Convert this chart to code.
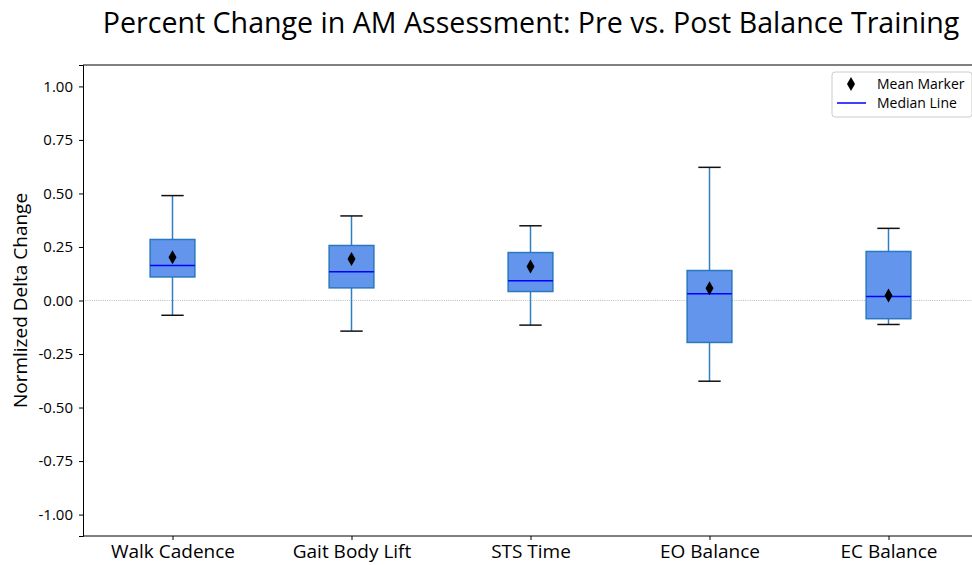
<!DOCTYPE html>
<html>
<head>
<meta charset="utf-8">
<script src="https://cdn.jsdelivr.net/npm/d3@7"></script>
<style>
  body { margin: 0; background: #fff; }
  text { font-family: "Open Sans", "DejaVu Sans", sans-serif; fill: #000; }
</style>
</head>
<body>
<script>
// values
let categories = ["Walk Cadence", "Gait Body Lift", "STS Time", "EO Balance", "EC Balance"];
let whiskerLow = [-0.069, -0.143, -0.115, -0.377, -0.112];
let q1 = [0.110, 0.059, 0.042, -0.196, -0.085];
let medians = [0.163, 0.134, 0.092, 0.031, 0.019];
let q3 = [0.285, 0.257, 0.224, 0.140, 0.229];
let whiskerHigh = [0.490, 0.395, 0.349, 0.622, 0.337];
let means = [0.202, 0.194, 0.159, 0.057, 0.023];
let yTicks = [-1, -0.75, -0.5, -0.25, 0, 0.25, 0.5, 0.75, 1];

let width = 972;
let height = 565;
let margin = { top: 65, right: -6, bottom: 29, left: 83 };

let data = categories.map((c, i) => ({
  name: c,
  lo: whiskerLow[i],
  q1: q1[i],
  med: medians[i],
  q3: q3[i],
  hi: whiskerHigh[i],
  mean: means[i],
}));

let svg = d3
  .select("body")
  .append("svg")
  .attr("width", width)
  .attr("height", height);

let x = d3
  .scaleLinear()
  .domain([0.5, categories.length + 0.5])
  .range([margin.left, width - margin.right]);

let y = d3
  .scaleLinear()
  .domain([-1.1, 1.1])
  .range([height - margin.bottom, margin.top]);

let boxW = x(1.25) - x(1);
let capW = boxW / 2;

// zero reference line
svg
  .append("line")
  .attr("x1", x(0.5))
  .attr("x2", x(5.5))
  .attr("y1", y(0))
  .attr("y2", y(0))
  .attr("stroke", "#aaa")
  .attr("stroke-width", 0.8)
  .attr("stroke-dasharray", "1,1.2");

// boxes
let g = svg
  .selectAll("g.box")
  .data(data)
  .join("g")
  .attr("class", "box")
  .attr("transform", (d, i) => `translate(${x(i + 1)},0)`);

g.append("line")
  .attr("y1", (d) => y(d.hi))
  .attr("y2", (d) => y(d.q3))
  .attr("stroke", "#2f7fc1")
  .attr("stroke-width", 1.5);

g.append("line")
  .attr("y1", (d) => y(d.lo))
  .attr("y2", (d) => y(d.q1))
  .attr("stroke", "#2f7fc1")
  .attr("stroke-width", 1.5);

g.selectAll("line.cap")
  .data((d) => [d.lo, d.hi])
  .join("line")
  .attr("class", "cap")
  .attr("x1", -capW / 2)
  .attr("x2", capW / 2)
  .attr("y1", (v) => y(v))
  .attr("y2", (v) => y(v))
  .attr("stroke", "#111")
  .attr("stroke-width", 1.5);

g.append("rect")
  .attr("x", -boxW / 2)
  .attr("width", boxW)
  .attr("y", (d) => y(d.q3))
  .attr("height", (d) => y(d.q1) - y(d.q3))
  .attr("fill", "#6495ed")
  .attr("stroke", "#2a78bd")
  .attr("stroke-width", 1.5);

g.append("line")
  .attr("x1", -boxW / 2)
  .attr("x2", boxW / 2)
  .attr("y1", (d) => y(d.med))
  .attr("y2", (d) => y(d.med))
  .attr("stroke", "#0000ff")
  .attr("stroke-width", 1.5);

let diamond = "M0,-7L4,0L0,7L-4,0Z";

g.append("path")
  .attr("d", diamond)
  .attr("transform", (d) => `translate(0,${y(d.mean)})`)
  .attr("fill", "#000");

// axes
let xAxis = d3
  .axisBottom(x)
  .tickValues(d3.range(1, categories.length + 1))
  .tickFormat((d) => categories[d - 1])
  .tickSize(4)
  .tickPadding(5);

svg
  .append("g")
  .attr("transform", `translate(0,${height - margin.bottom})`)
  .call(xAxis)
  .call((g) => g.select(".domain").attr("d", `M${x(0.5)},0H${x(5.5)}`))
  .call((g) => g.selectAll("text").attr("font-size", 19).attr("font-family", null));

let yAxis = d3
  .axisLeft(y)
  .tickValues(yTicks)
  .tickFormat((d) => d3.format(".2f")(d).replace("\u2212", "-"))
  .tickSize(4)
  .tickPadding(6);

svg
  .append("g")
  .attr("transform", `translate(${margin.left},0)`)
  .call(yAxis)
  .call((g) => g.selectAll("text").attr("font-size", 15).attr("font-family", null));

// top frame line
svg
  .append("line")
  .attr("x1", x(0.5))
  .attr("x2", x(5.5))
  .attr("y1", y(1.1))
  .attr("y2", y(1.1))
  .attr("stroke", "#000");

// title and y label
svg
  .append("text")
  .attr("x", 531)
  .attr("y", 33)
  .attr("text-anchor", "middle")
  .attr("font-size", 28.6)
  .text("Percent Change in AM Assessment: Pre vs. Post Balance Training");

svg
  .append("text")
  .attr("transform", `translate(27,${y(0)}) rotate(-90)`)
  .attr("text-anchor", "middle")
  .attr("font-size", 19)
  .text("Normlized Delta Change");

// legend
let legend = svg.append("g").attr("transform", "translate(832,72)");

legend
  .append("rect")
  .attr("width", 140)
  .attr("height", 45)
  .attr("rx", 3)
  .attr("fill", "#fff")
  .attr("stroke", "#ccc");

legend
  .append("path")
  .attr("d", diamond)
  .attr("transform", "translate(19,12)")
  .attr("fill", "#000");

legend
  .append("line")
  .attr("x1", 5)
  .attr("x2", 34)
  .attr("y1", 31)
  .attr("y2", 31)
  .attr("stroke", "#0000ff")
  .attr("stroke-width", 1.5);

legend
  .selectAll("text")
  .data(["Mean Marker", "Median Line"])
  .join("text")
  .attr("x", 45)
  .attr("y", (d, i) => 12 + i * 19)
  .attr("dy", "0.35em")
  .attr("font-size", 14)
  .text((d) => d);
</script>
</body>
</html>
